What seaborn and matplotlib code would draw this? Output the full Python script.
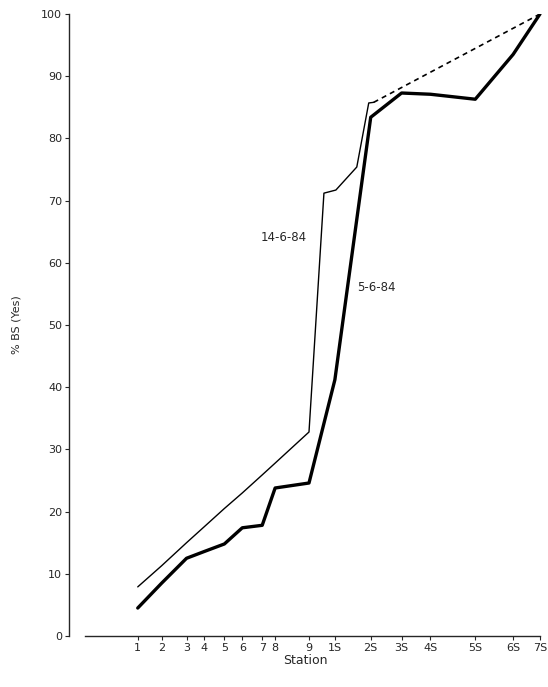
import pandas as pd
import matplotlib
matplotlib.use("Agg")
import matplotlib.pyplot as plt
import seaborn as sns

sns.set_style("ticks")

# Stations along the river and their position on the x axis (relative distance)
stations = ['1', '2', '3', '4', '5', '6', '7', '8', '9',
            '1S', '2S', '3S', '4S', '5S', '6S', '7S']
station_km = [0, 2.4, 4.9, 6.7, 8.7, 10.5, 12.5, 13.8, 17.2,
              19.8, 23.4, 26.5, 29.4, 33.9, 37.7, 40.4]

# 5-6-84 survey (thick line)
survey_5_6 = [4.5, 8.5, 12.5, 13.6, 14.8, 17.4, 17.8, 23.8, 24.6,
              41.2, 83.4, 87.3, 87.1, 86.3, 93.5, 100]

# 14-6-84 survey (thin line), measured points
survey_14_6_km = [0, 2.4, 4.9, 6.7, 8.7, 10.5, 12.5, 13.8, 17.2,
                  18.7, 19.9, 22.0, 23.2, 23.7]
survey_14_6 = [7.9, 11.3, 15.0, 17.6, 20.5, 23.0, 25.9, 27.8, 32.8,
               71.2, 71.7, 75.4, 85.7, 85.8]

# 14-6-84 extrapolated part (dashed)
dashed_km = [23.7, 40.4]
dashed_vals = [85.8, 100]

df5 = pd.DataFrame({'km': station_km, 'pct': survey_5_6})
df14 = pd.DataFrame({'km': survey_14_6_km, 'pct': survey_14_6})
dfd = pd.DataFrame({'km': dashed_km, 'pct': dashed_vals})

fig = plt.figure(figsize=(5.48, 6.87), dpi=100)
ax = fig.add_axes([0.126, 0.0742, 0.863, 0.9054])

sns.lineplot(data=df5, x='km', y='pct', color='black', linewidth=2.4,
             sort=False, ax=ax)
sns.lineplot(data=df14, x='km', y='pct', color='black', linewidth=1.0,
             sort=False, ax=ax)
sns.lineplot(data=dfd, x='km', y='pct', color='black', linewidth=1.2,
             dashes=False, linestyle=(0, (3, 2.5)), ax=ax)

ax.text(17.0, 64, '14-6-84', ha='right', va='center', fontsize=8.5)
ax.text(22.0, 56, '5-6-84', ha='left', va='center', fontsize=8.5)

ax.set_xlim(-6.9, 40.6)
ax.set_ylim(0, 100)
ax.set_xticks(station_km)
ax.set_xticklabels(stations)
ax.set_yticks(range(0, 101, 10))
ax.tick_params(axis='both', labelsize=8, length=3, width=0.8, pad=2)
ax.set_xlabel('Station', fontsize=9, labelpad=1)
ax.set_ylabel('% BS (Yes)', fontsize=8, labelpad=14)

sns.despine(ax=ax)
ax.spines['bottom'].set_bounds(-5.3, 40.4)
ax.spines['left'].set_linewidth(1.0)
ax.spines['bottom'].set_linewidth(1.0)

plt.savefig('out.png', dpi=100)
